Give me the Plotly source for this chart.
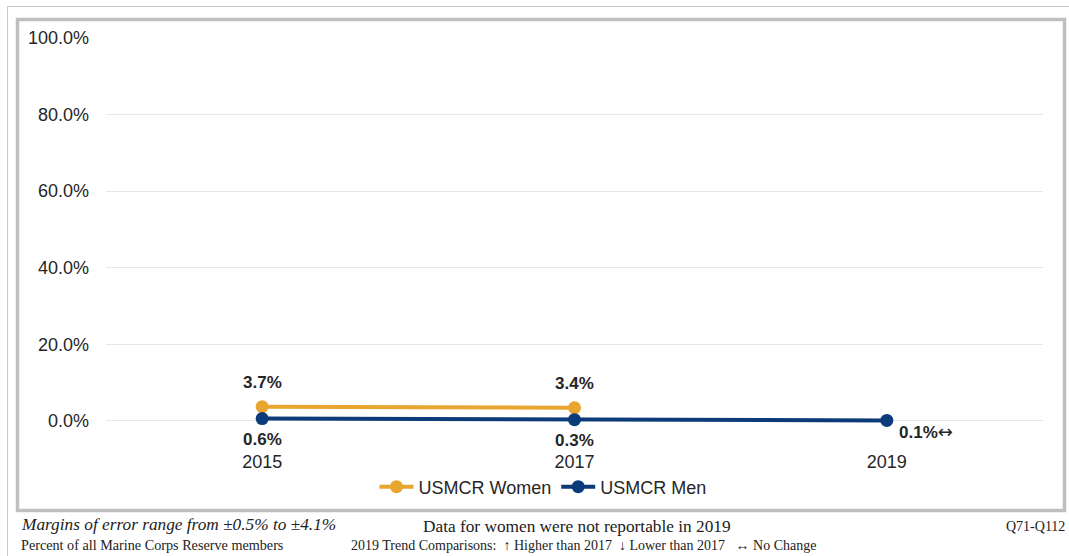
import plotly.graph_objects as go

years = ["2015", "2017", "2019"]
women_years = ["2015", "2017"]
women_vals = [3.7, 3.4]
men_vals = [0.6, 0.3, 0.1]
women_labels = ["3.7%", "3.4%"]
men_labels = ["0.6%", "0.3%", "0.1%"]
y_ticks = [0, 20, 40, 60, 80, 100]
y_ticktext = ["0.0%", "20.0%", "40.0%", "60.0%", "80.0%", "100.0%"]

ORANGE = "#E8A630"
NAVY = "#0B3B78"
W, H = 1069, 556
L, R, T, B = 106, 26, 38, 116
PW, PH = W - L - R, H - T - B


def px(x):
    return (x - L) / PW


def py(y):
    return (H - B - y) / PH


fig = go.Figure()
fig.add_trace(go.Scatter(x=women_years, y=women_vals, mode="lines+markers",
                         name="USMCR Women", line=dict(color=ORANGE, width=4),
                         marker=dict(size=13, color=ORANGE)))
fig.add_trace(go.Scatter(x=years, y=men_vals, mode="lines+markers",
                         name="USMCR Men", line=dict(color=NAVY, width=4),
                         marker=dict(size=13, color=NAVY)))

lab_font = dict(size=17, color="#262626", family="Liberation Sans, Arial")
# data labels (category axis: use category index)
for x, v, t in zip(women_years, women_vals, women_labels):
    fig.add_annotation(x=years.index(x), y=v, text="<b>" + t + "</b>", showarrow=False,
                       yshift=24, font=lab_font)
for i, (x, v, t) in enumerate(zip(years, men_vals, men_labels)):
    if i < 2:
        fig.add_annotation(x=years.index(x), y=v, text="<b>" + t + "</b>", showarrow=False,
                           yshift=-21, font=lab_font)
    else:
        fig.add_annotation(x=years.index(x), y=v,
                           text="<b>" + t + "</b><span style='font-size:18px;font-family:DejaVu Sans'>↔</span>",
                           showarrow=False, xanchor="left", xshift=10, yshift=-11,
                           font=lab_font)

serif = "Liberation Serif, Times New Roman"
fig.add_annotation(xref="paper", yref="paper", x=px(19), y=py(524),
                   text="<i>Margins of error range from ±0.5% to ±4.1%</i>",
                   showarrow=False, xanchor="left", yanchor="middle",
                   font=dict(size=17.3, color="#222", family=serif))
fig.add_annotation(xref="paper", yref="paper", x=px(577), y=py(526),
                   text="Data for women were not reportable in 2019",
                   showarrow=False, xanchor="center", yanchor="middle",
                   font=dict(size=17.3, color="#222", family=serif))
fig.add_annotation(xref="paper", yref="paper", x=px(1067), y=py(526),
                   text="Q71-Q112", showarrow=False, xanchor="right", yanchor="middle",
                   font=dict(size=14, color="#222", family=serif))
fig.add_annotation(xref="paper", yref="paper", x=px(19), y=py(545),
                   text="Percent of all Marine Corps Reserve members",
                   showarrow=False, xanchor="left", yanchor="middle",
                   font=dict(size=14.2, color="#222", family=serif))
fig.add_annotation(xref="paper", yref="paper", x=px(349), y=py(545),
                   text="2019 Trend Comparisons:  ↑ Higher than 2017  ↓ Lower than 2017   ↔ No Change",
                   showarrow=False, xanchor="left", yanchor="middle",
                   font=dict(size=14, color="#222", family=serif))

# frames
fig.add_shape(type="rect", xref="paper", yref="paper",
              x0=px(7.5), y0=py(600), x1=px(1100), y1=py(6.5),
              line=dict(color="#c8c8c8", width=1), layer="below")
fig.add_shape(type="rect", xref="paper", yref="paper",
              x0=px(17.5), y0=py(510.5), x1=px(1064.5), y1=py(19.5),
              line=dict(color="#bfbfbf", width=3.5), layer="below")

fig.update_layout(
    width=W, height=H,
    margin=dict(l=L, r=R, t=T, b=B),
    paper_bgcolor="white", plot_bgcolor="white",
    showlegend=True,
    legend=dict(orientation="h", x=px(543), xanchor="center", y=py(487), yanchor="middle",
                bgcolor="rgba(0,0,0,0)",
                font=dict(size=18, color="#262626", family="Liberation Sans, Arial"),
                itemwidth=34, tracegroupgap=0),
    xaxis=dict(type="category", categoryorder="array", categoryarray=years,
               range=[-0.5, 2.5], showgrid=False, zeroline=False, showline=False,
               ticks="", tickfont=dict(size=18, color="#262626", family="Liberation Sans, Arial"),
               ticklabelstandoff=9),
    yaxis=dict(range=[-5, 100], tickvals=y_ticks, ticktext=y_ticktext,
               showgrid=True, gridcolor="#e6e6e6", gridwidth=1,
               zeroline=True, zerolinecolor="#e6e6e6", zerolinewidth=1,
               showline=False, ticks="", ticklabelstandoff=16,
               tickfont=dict(size=18, color="#262626", family="Liberation Sans, Arial")),
)

fig.write_html("out.html", config={"displayModeBar": False})
with open("out.html", "r", encoding="utf-8") as f:
    html = f.read()
html = html.replace("<head>", "<head><style>html,body{margin:0;padding:0;overflow:hidden;}</style>", 1)
with open("out.html", "w", encoding="utf-8") as f:
    f.write(html)
